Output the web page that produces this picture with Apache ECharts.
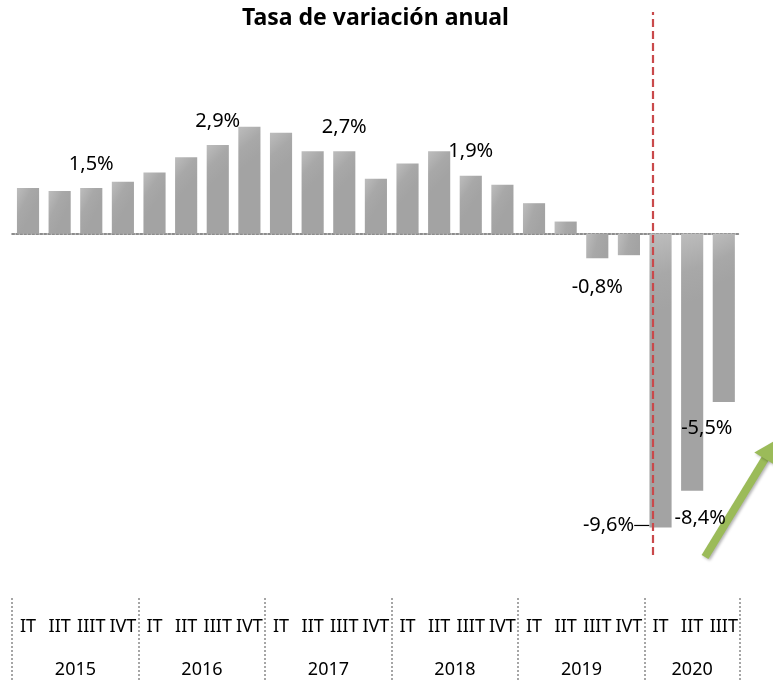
<!DOCTYPE html>
<html><head><meta charset="utf-8">
<script src="https://cdn.jsdelivr.net/npm/echarts@6/dist/echarts.min.js"></script>
<style>html,body{margin:0;padding:0;background:#fff}#c{width:773px;height:682px}</style>
</head><body><div id="c"></div><script>
// ---- data ----
const chartTitle = 'Tasa de variación anual';
const years = ['2015', '2016', '2017', '2018', '2019', '2020'];
const quarterNames = ['IT', 'IIT', 'IIIT', 'IVT'];
const quartersPerYear = [4, 4, 4, 4, 4, 3];
const values = [1.5, 1.4, 1.5, 1.7,  2.0, 2.5, 2.9, 3.5,  3.3, 2.7, 2.7, 1.8,
                2.3, 2.7, 1.9, 1.6,  1.0, 0.4, -0.8, -0.7,  -9.6, -8.4, -5.5];
const labelledIdx = [2, 6, 10, 14, 18, 20, 21, 22];
const markerPos = 19.76; // dashed marker position on the quarter scale

// ---- derived ----
const categories = [];
const groupStarts = [];
const yearCenters = [];
quartersPerYear.forEach((n) => {
  groupStarts.push(categories.length);
  yearCenters.push(categories.length + (n - 1) / 2);
  for (let q = 0; q < n; q++) categories.push(quarterNames[q]);
});
const N = categories.length;
const fmt = v => v.toFixed(1).replace('.', ',') + '%';

const FONT = "'Noto Sans', sans-serif";
const labelDistance = { 18: 19.5, 20: 0, 21: 0, 22: 0 };
const labelShift = { 20: { dx: -52, dy: -12 }, 21: { dx: 8, dy: 17.5 }, 22: { dx: -17, dy: 16 } };

const barGradient = new echarts.graphic.LinearGradient(0, 0, 1, 0.25, [
  { offset: 0, color: '#bdbdbd' },
  { offset: 0.55, color: '#a8a8a8' },
  { offset: 1, color: '#a3a3a3' }
]);

const barData = values.map((v, i) => {
  const item = { value: v };
  if (labelledIdx.includes(i)) {
    item.label = {
      show: true,
      position: v >= 0 ? 'top' : 'bottom',
      distance: labelDistance[i] !== undefined ? labelDistance[i] : 14,
      formatter: p => fmt(p.value),
      fontFamily: FONT, fontSize: 20, color: '#000'
    };
    if (i === 20) item.labelLine = { show: true, lineStyle: { color: '#000', width: 1.2 } };
  } else {
    item.label = { show: false };
  }
  return item;
});

const GL = 12.2, GR = 33.4;
const chart = echarts.init(document.getElementById('c'));
chart.setOption({
  animation: false,
  backgroundColor: '#fff',
  title: {
    text: chartTitle, left: 242, top: 2, padding: [5, 0, 5, 0],
    textStyle: { fontFamily: FONT, fontSize: 23, fontWeight: 'bold', color: '#000' }
  },
  grid: [
    { left: GL, right: GR, top: 12, bottom: 127 },
    { left: GL, right: GR, top: 598, bottom: 0 }
  ],
  xAxis: [
    { type: 'category', gridIndex: 0, data: categories, boundaryGap: true,
      axisLine: { show: true, onZero: true, lineStyle: { color: '#8c8c8c', type: 'dotted', width: 2 } },
      axisTick: { show: false }, axisLabel: { show: false }, splitLine: { show: false } },
    { type: 'value', gridIndex: 0, min: -0.5, max: N - 0.5, show: false },
    { type: 'category', gridIndex: 1, data: categories, position: 'top', offset: -46,
      axisLine: { show: false }, axisTick: { show: false },
      axisLabel: { interval: 0, fontFamily: FONT, fontSize: 18, color: '#000', margin: 8 },
      splitLine: { show: true, interval: (idx) => groupStarts.includes(idx),
        lineStyle: { color: '#a6a6a6', type: 'dotted', width: 2 } } },
    { type: 'value', gridIndex: 1, min: -0.5, max: N - 0.5, position: 'bottom', offset: -29,
      axisLine: { show: false }, axisTick: { show: false }, splitLine: { show: false },
      axisLabel: { customValues: yearCenters, formatter: v => years[yearCenters.findIndex(c => Math.abs(c - v) < 1e-6)],
        fontFamily: FONT, fontSize: 18, color: '#000', margin: 8 } }
  ],
  yAxis: [
    { type: 'value', gridIndex: 0, min: -10.5, max: 7.25, show: false },
    { type: 'value', gridIndex: 1, min: 0, max: 1, show: false }
  ],
  series: [
    { type: 'bar', xAxisIndex: 0, yAxisIndex: 0, data: barData, barCategoryGap: '30%',
      itemStyle: { color: barGradient },
      labelLayout: p => labelShift[p.dataIndex] || null },
    { type: 'line', xAxisIndex: 1, yAxisIndex: 0, data: [],
      markLine: { silent: true, symbol: ['none', 'none'], label: { show: false },
        lineStyle: { color: '#c9494b', type: [8, 4], width: 2.2 },
        data: [{ xAxis: markerPos }] } }
  ],
  graphic: [
    { type: 'group', silent: true, children: [
      { type: 'line', shape: { x1: 705, y1: 557, x2: 765.5, y2: 458 },
        style: { stroke: '#9bbb59', lineWidth: 8, shadowBlur: 3, shadowColor: 'rgba(0,0,0,0.3)', shadowOffsetX: 1.5, shadowOffsetY: 1.5 } },
      { type: 'polygon', shape: { points: [[776, 440], [774.9, 465], [754.3, 452.6]] },
        style: { fill: '#9bbb59', shadowBlur: 3, shadowColor: 'rgba(0,0,0,0.3)', shadowOffsetX: 1.5, shadowOffsetY: 1.5 } }
    ] }
  ]
});
</script></body></html>
